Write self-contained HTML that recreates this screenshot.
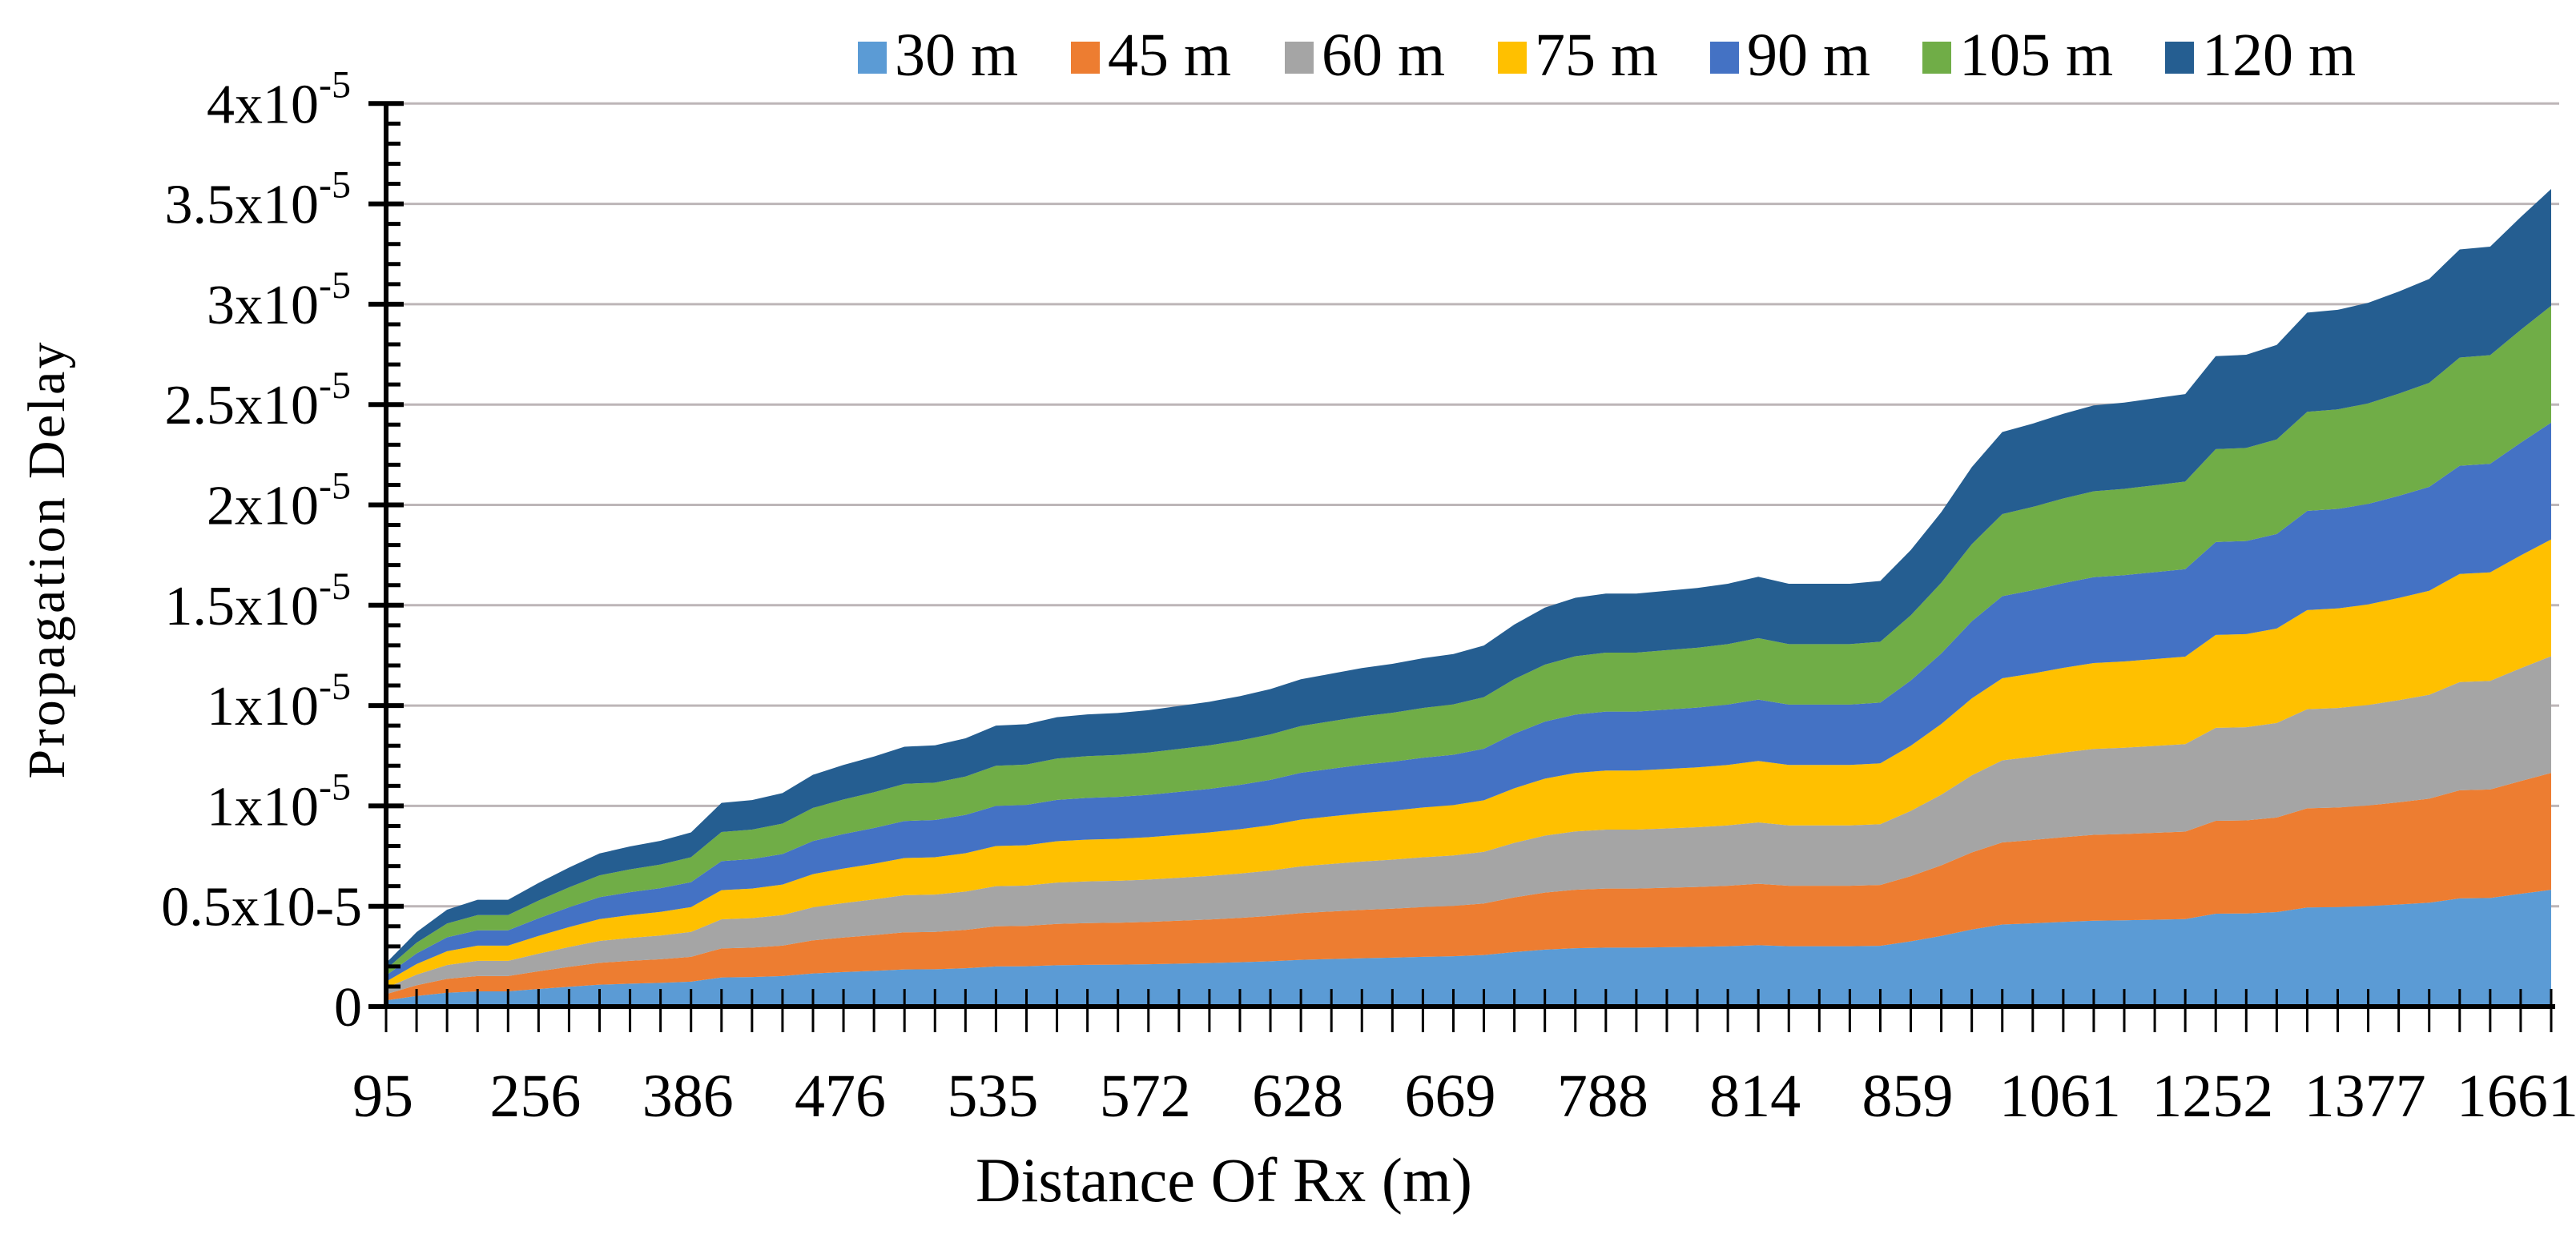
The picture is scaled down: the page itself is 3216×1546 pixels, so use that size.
<!DOCTYPE html>
<html><head><meta charset="utf-8">
<style>
html,body{margin:0;padding:0;background:#fff;}
svg{display:block;font-family:"Liberation Serif",serif;}
</style></head>
<body>
<svg id="chart" width="3216" height="1546" viewBox="0 0 3216 1546" xmlns="http://www.w3.org/2000/svg">
<g id="grid"></g>
<g id="areas"></g>
<g id="axes"></g>
<g id="legend"></g>
<text x="1528" y="1500" font-size="78" text-anchor="middle" textLength="620" lengthAdjust="spacingAndGlyphs">Distance Of  Rx (m)</text>
<text transform="translate(80,700) rotate(-90)" font-size="66" text-anchor="middle" textLength="545" lengthAdjust="spacing">Propagation Delay</text>
</svg>
<script>
const categories = [95,130,165,200,230,256,290,320,345,368,386,400,420,440,460,476,488,500,512,524,535,542,550,557,565,572,583,595,606,617,628,636,644,652,660,669,690,720,750,770,788,793,798,803,808,814,823,832,841,850,859,900,950,1000,1030,1061,1100,1140,1180,1220,1252,1280,1310,1340,1360,1377,1420,1470,1520,1580,1661,1720];
const xLabelIdx = [0,5,10,15,20,25,30,35,40,45,50,55,60,65,70];
const yTickLabels = ["0","0.5x10-5","1x10-5","1x10-5","1.5x10-5","2x10-5","2.5x10-5","3x10-5","3.5x10-5","4x10-5"];
const ySup = [false,false,true,true,true,true,true,true,true,true];
const seriesNames = ["30 m","45 m","60 m","75 m","90 m","105 m","120 m"];
const seriesColors = ["#5b9bd5","#ed7d31","#a5a5a5","#ffc000","#4472c4","#70ad47","#255e91"];
const s30 = [0.031,0.053,0.069,0.076,0.076,0.088,0.099,0.109,0.114,0.118,0.124,0.145,0.147,0.152,0.165,0.172,0.178,0.185,0.186,0.191,0.200,0.201,0.206,0.208,0.209,0.211,0.214,0.217,0.221,0.226,0.233,0.237,0.241,0.244,0.248,0.251,0.257,0.272,0.284,0.291,0.294,0.294,0.296,0.298,0.301,0.306,0.301,0.301,0.301,0.303,0.325,0.352,0.384,0.409,0.415,0.422,0.428,0.430,0.433,0.436,0.463,0.464,0.471,0.494,0.496,0.501,0.509,0.518,0.539,0.541,0.562,0.582];
const s45 = [0.031,0.053,0.069,0.076,0.076,0.088,0.099,0.109,0.114,0.118,0.124,0.145,0.147,0.152,0.165,0.172,0.178,0.185,0.186,0.191,0.200,0.201,0.206,0.208,0.209,0.211,0.214,0.217,0.221,0.226,0.233,0.237,0.241,0.244,0.248,0.251,0.257,0.272,0.284,0.291,0.294,0.294,0.296,0.298,0.301,0.306,0.301,0.301,0.301,0.303,0.325,0.352,0.384,0.409,0.415,0.422,0.428,0.430,0.433,0.436,0.463,0.464,0.471,0.494,0.496,0.501,0.509,0.518,0.539,0.541,0.562,0.582];
const s60 = [0.031,0.053,0.069,0.076,0.076,0.088,0.099,0.109,0.114,0.118,0.124,0.145,0.147,0.152,0.165,0.172,0.178,0.185,0.186,0.191,0.200,0.201,0.206,0.208,0.209,0.211,0.214,0.217,0.221,0.226,0.233,0.237,0.241,0.244,0.248,0.251,0.257,0.272,0.284,0.291,0.294,0.294,0.296,0.298,0.301,0.306,0.301,0.301,0.301,0.303,0.325,0.352,0.384,0.409,0.415,0.422,0.428,0.430,0.433,0.436,0.463,0.464,0.471,0.494,0.496,0.501,0.509,0.518,0.539,0.541,0.562,0.582];
const s75 = [0.031,0.053,0.069,0.076,0.076,0.088,0.099,0.109,0.114,0.118,0.124,0.145,0.147,0.152,0.165,0.172,0.178,0.185,0.186,0.191,0.200,0.201,0.206,0.208,0.209,0.211,0.214,0.217,0.221,0.226,0.233,0.237,0.241,0.244,0.248,0.251,0.257,0.272,0.284,0.291,0.294,0.294,0.296,0.298,0.301,0.306,0.301,0.301,0.301,0.303,0.325,0.352,0.384,0.409,0.415,0.422,0.428,0.430,0.433,0.436,0.463,0.464,0.471,0.494,0.496,0.501,0.509,0.518,0.539,0.541,0.562,0.582];
const s90 = [0.031,0.053,0.069,0.076,0.076,0.088,0.099,0.109,0.114,0.118,0.124,0.145,0.147,0.152,0.165,0.172,0.178,0.185,0.186,0.191,0.200,0.201,0.206,0.208,0.209,0.211,0.214,0.217,0.221,0.226,0.233,0.237,0.241,0.244,0.248,0.251,0.257,0.272,0.284,0.291,0.294,0.294,0.296,0.298,0.301,0.306,0.301,0.301,0.301,0.303,0.325,0.352,0.384,0.409,0.415,0.422,0.428,0.430,0.433,0.436,0.463,0.464,0.471,0.494,0.496,0.501,0.509,0.518,0.539,0.541,0.562,0.582];
const s105 = [0.031,0.053,0.069,0.076,0.076,0.088,0.099,0.109,0.114,0.118,0.124,0.145,0.147,0.152,0.165,0.172,0.178,0.185,0.186,0.191,0.200,0.201,0.206,0.208,0.209,0.211,0.214,0.217,0.221,0.226,0.233,0.237,0.241,0.244,0.248,0.251,0.257,0.272,0.284,0.291,0.294,0.294,0.296,0.298,0.301,0.306,0.301,0.301,0.301,0.303,0.325,0.352,0.384,0.409,0.415,0.422,0.428,0.430,0.433,0.436,0.463,0.464,0.471,0.494,0.496,0.501,0.509,0.518,0.539,0.541,0.562,0.582];
const s120 = [0.031,0.053,0.069,0.076,0.076,0.088,0.099,0.109,0.114,0.118,0.124,0.145,0.147,0.152,0.165,0.172,0.178,0.185,0.186,0.191,0.200,0.201,0.206,0.208,0.209,0.211,0.214,0.217,0.221,0.226,0.233,0.237,0.241,0.244,0.248,0.251,0.257,0.272,0.284,0.291,0.294,0.294,0.296,0.298,0.301,0.306,0.301,0.301,0.301,0.303,0.325,0.352,0.384,0.409,0.415,0.422,0.428,0.430,0.433,0.436,0.463,0.464,0.471,0.494,0.496,0.501,0.509,0.518,0.539,0.541,0.562,0.582];

const NS="http://www.w3.org/2000/svg";
const series=[s30,s45,s60,s75,s90,s105,s120];
const X0=482, X1=3185, Y0=1257, STEP=125.3, YSTEP=0.5;
const n=categories.length;
function xs(i){return X0+(X1-X0)*i/(n-1);}
function ys(v){return Y0-v/YSTEP*STEP;}
function mk(tag,attrs,parent){const e=document.createElementNS(NS,tag);for(const k in attrs)e.setAttribute(k,attrs[k]);parent.appendChild(e);return e;}

const grid=document.getElementById('grid');
for(let k=1;k<yTickLabels.length;k++){
  const l=mk('line',{x1:X0,x2:3195,y1:ys(k*YSTEP),y2:ys(k*YSTEP),stroke:'#bdb6b8','stroke-width':3},grid);
  
  
}
const areas=document.getElementById('areas');
let base=new Array(n).fill(0);
series.forEach((s,si)=>{
  const top=base.map((b,i)=>b+s[i]);
  let d='M'+xs(0)+','+ys(top[0]);
  for(let i=1;i<n;i++)d+='L'+xs(i)+','+ys(top[i]);
  for(let i=n-1;i>=0;i--)d+='L'+xs(i)+','+ys(base[i]);
  d+='Z';
  const p=mk('path',{d:d,fill:seriesColors[si]},areas);
  
  
  base=top;
});
const axes=document.getElementById('axes');
mk('line',{x1:X0,x2:X0,y1:ys(9*YSTEP)-2,y2:Y0+2,stroke:'#000','stroke-width':6},axes);
mk('line',{x1:X0-20,x2:X1+5,y1:Y0,y2:Y0,stroke:'#000','stroke-width':6},axes);
for(let k=0;k<yTickLabels.length;k++){
  const y=ys(k*YSTEP);
  mk('line',{x1:X0-22,x2:X0+22,y1:y,y2:y,stroke:'#000','stroke-width':6},axes);
  if(k<yTickLabels.length-1)for(let m=1;m<5;m++){
    const ym=y-m*STEP/5;
    mk('line',{x1:X0,x2:X0+18,y1:ym,y2:ym,stroke:'#000','stroke-width':5},axes);
  }
  const t=mk('text',{x:ySup[k]?438:452,y:y+24,'font-size':70,'text-anchor':'end'},axes);
  
  
  if(ySup[k]){
    t.textContent=yTickLabels[k].replace('-5','');
    const sp=document.createElementNS(NS,'tspan');
    sp.setAttribute('dy','-32');sp.setAttribute('font-size','48');sp.textContent='-5';
    t.appendChild(sp);
  } else t.textContent=yTickLabels[k];
}
for(let i=0;i<n;i++){
  mk('line',{x1:xs(i),x2:xs(i),y1:Y0-22,y2:Y0+32,stroke:'#000','stroke-width':3},axes);
}
xLabelIdx.forEach(i=>{
  const t=mk('text',{x:xs(i)-4,y:1394,'font-size':76,'text-anchor':'middle'},axes);
  
  
  t.textContent=categories[i];
});
const legend=document.getElementById('legend');
const legX=[1071,1337,1604,1870,2135,2400,2703];
seriesNames.forEach((nm,si)=>{
  const g=mk('g',{},legend);
  
  
  mk('rect',{x:legX[si],y:52,width:36,height:40,fill:seriesColors[si]},g);
  const t=mk('text',{x:legX[si]+46,y:94,'font-size':76},g);
  t.textContent=nm;
});
</script>
</body></html>
